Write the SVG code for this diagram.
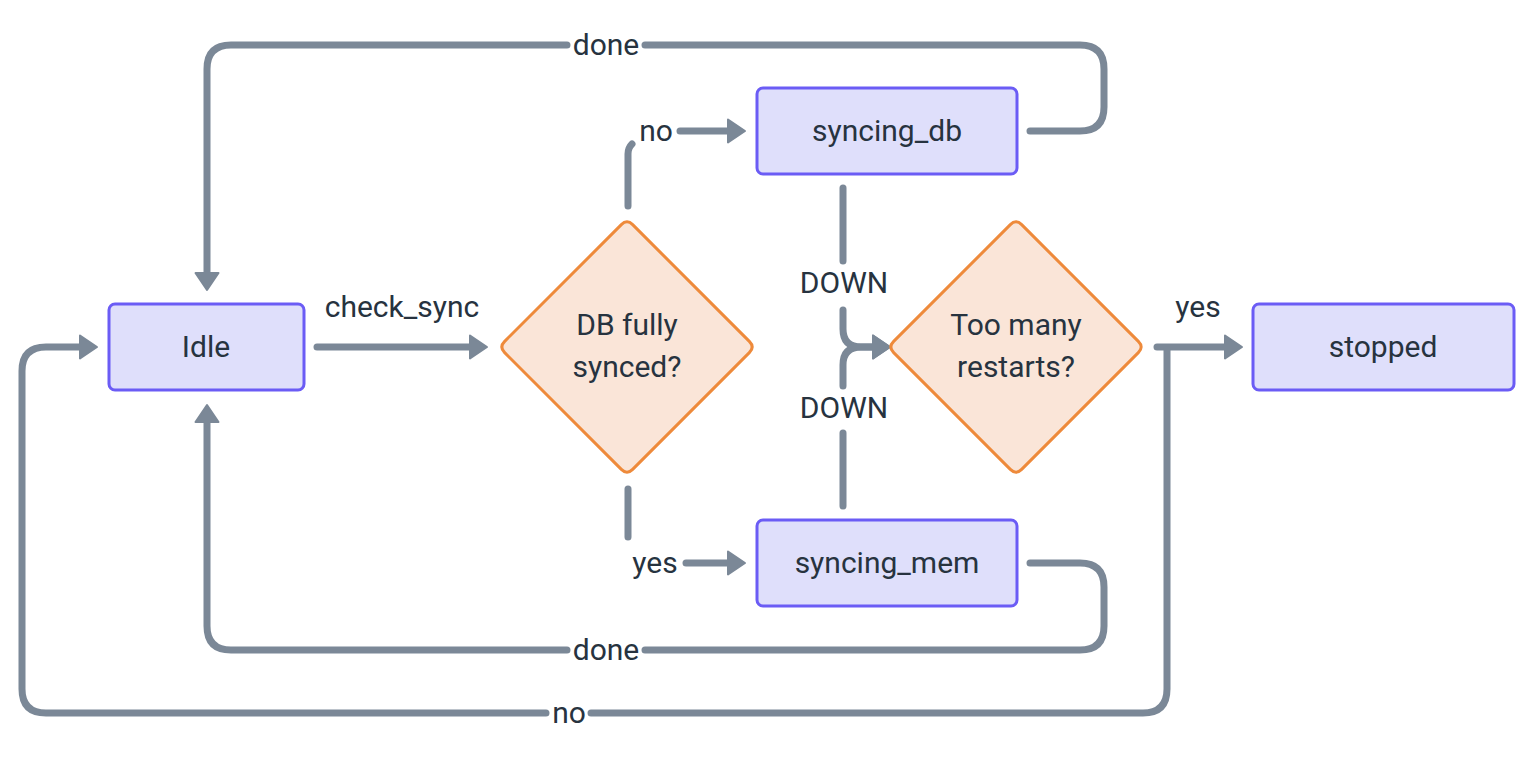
<svg xmlns="http://www.w3.org/2000/svg" width="1530" height="760" viewBox="0 0 1530 760">
<defs>
<marker id="arr" markerUnits="userSpaceOnUse" markerWidth="24" markerHeight="30" refX="7" refY="11.5" orient="auto" overflow="visible">
<path d="M0,0 L17,11.5 L0,23 Z" fill="#7b8897" stroke="#7b8897" stroke-width="2" stroke-linejoin="round"/>
</marker>
</defs>
<style>
.edge{fill:none;stroke:#7b8897;stroke-width:7;stroke-linecap:round;stroke-linejoin:round}
.box{fill:#dfdffb;stroke:#6b5cf5;stroke-width:3}
.dia{fill:#fae5d8;stroke:#ee8a3b;stroke-width:3}
text{font-family:Roboto,"Noto Sans",sans-serif;font-size:30px;fill:#27333f;text-anchor:middle}
</style>
<rect width="1530" height="760" fill="#ffffff"/>
<g id="connectors">
<path class="edge" d="M317,347 H477" marker-end="url(#arr)"/>
<path class="edge" d="M628,206 V154 Q628,148 632,144"/>
<path class="edge" d="M680,131 H735" marker-end="url(#arr)"/>
<path class="edge" d="M628,489 V537"/>
<path class="edge" d="M686,563 H735" marker-end="url(#arr)"/>
<path class="edge" d="M1030,131 H1080 Q1104,131 1104,107 V69 Q1104,45 1080,45 H645"/>
<path class="edge" d="M567,45 H231 Q207,45 207,69 V280" marker-end="url(#arr)"/>
<path class="edge" d="M1030,563 H1080 Q1104,563 1104,587 V626 Q1104,650 1080,650 H645"/>
<path class="edge" d="M567,650 H231 Q207,650 207,626 V415" marker-end="url(#arr)"/>
<path class="edge" d="M843,188 V261"/>
<path class="edge" d="M843,310 V329 Q843,347 861,347 H880" marker-end="url(#arr)"/>
<path class="edge" d="M843,506 V433"/>
<path class="edge" d="M843,386 V365 Q843,347 861,347 H880" marker-end="url(#arr)"/>
<path class="edge" d="M1157,347 H1232" marker-end="url(#arr)"/>
<path class="edge" d="M1167,350 V689 Q1167,713 1143,713 H591"/>
<path class="edge" d="M546,713 H46 Q22,713 22,689 V371 Q22,347 46,347 H87" marker-end="url(#arr)"/>
<text x="402" y="317">check_sync</text>
<text x="656" y="141">no</text>
<text x="655" y="573">yes</text>
<text x="606" y="55">done</text>
<text x="606" y="660">done</text>
<text x="844" y="293">DOWN</text>
<text x="844" y="418">DOWN</text>
<text x="1198" y="317">yes</text>
<text x="569" y="723">no</text>
</g>
<g id="idle">
<rect class="box" x="109" y="304" width="195" height="86" rx="6"/>
<text x="206" y="357">Idle</text>
</g>
<g id="db_fully_synced">
<path class="dia" d="M632.66,224.66 L749.34,341.34 Q755,347 749.34,352.66 L632.66,469.34 Q627,475 621.34,469.34 L504.66,352.66 Q499,347 504.66,341.34 L621.34,224.66 Q627,219 632.66,224.66 Z"/>
<text x="627" y="335">DB fully</text>
<text x="627" y="377">synced?</text>
</g>
<g id="syncing_db">
<rect class="box" x="757" y="88" width="260" height="86" rx="6"/>
<text x="887" y="141">syncing_db</text>
</g>
<g id="syncing_mem">
<rect class="box" x="757" y="520" width="260" height="86" rx="6"/>
<text x="887" y="573">syncing_mem</text>
</g>
<g id="too_many_restarts">
<path class="dia" d="M1021.66,224.66 L1138.34,341.34 Q1144,347 1138.34,352.66 L1021.66,469.34 Q1016,475 1010.34,469.34 L893.66,352.66 Q888,347 893.66,341.34 L1010.34,224.66 Q1016,219 1021.66,224.66 Z"/>
<text x="1016" y="335">Too many</text>
<text x="1016" y="377">restarts?</text>
</g>
<g id="stopped">
<rect class="box" x="1253" y="304" width="261" height="86" rx="6"/>
<text x="1383" y="357">stopped</text>
</g>
</svg>
